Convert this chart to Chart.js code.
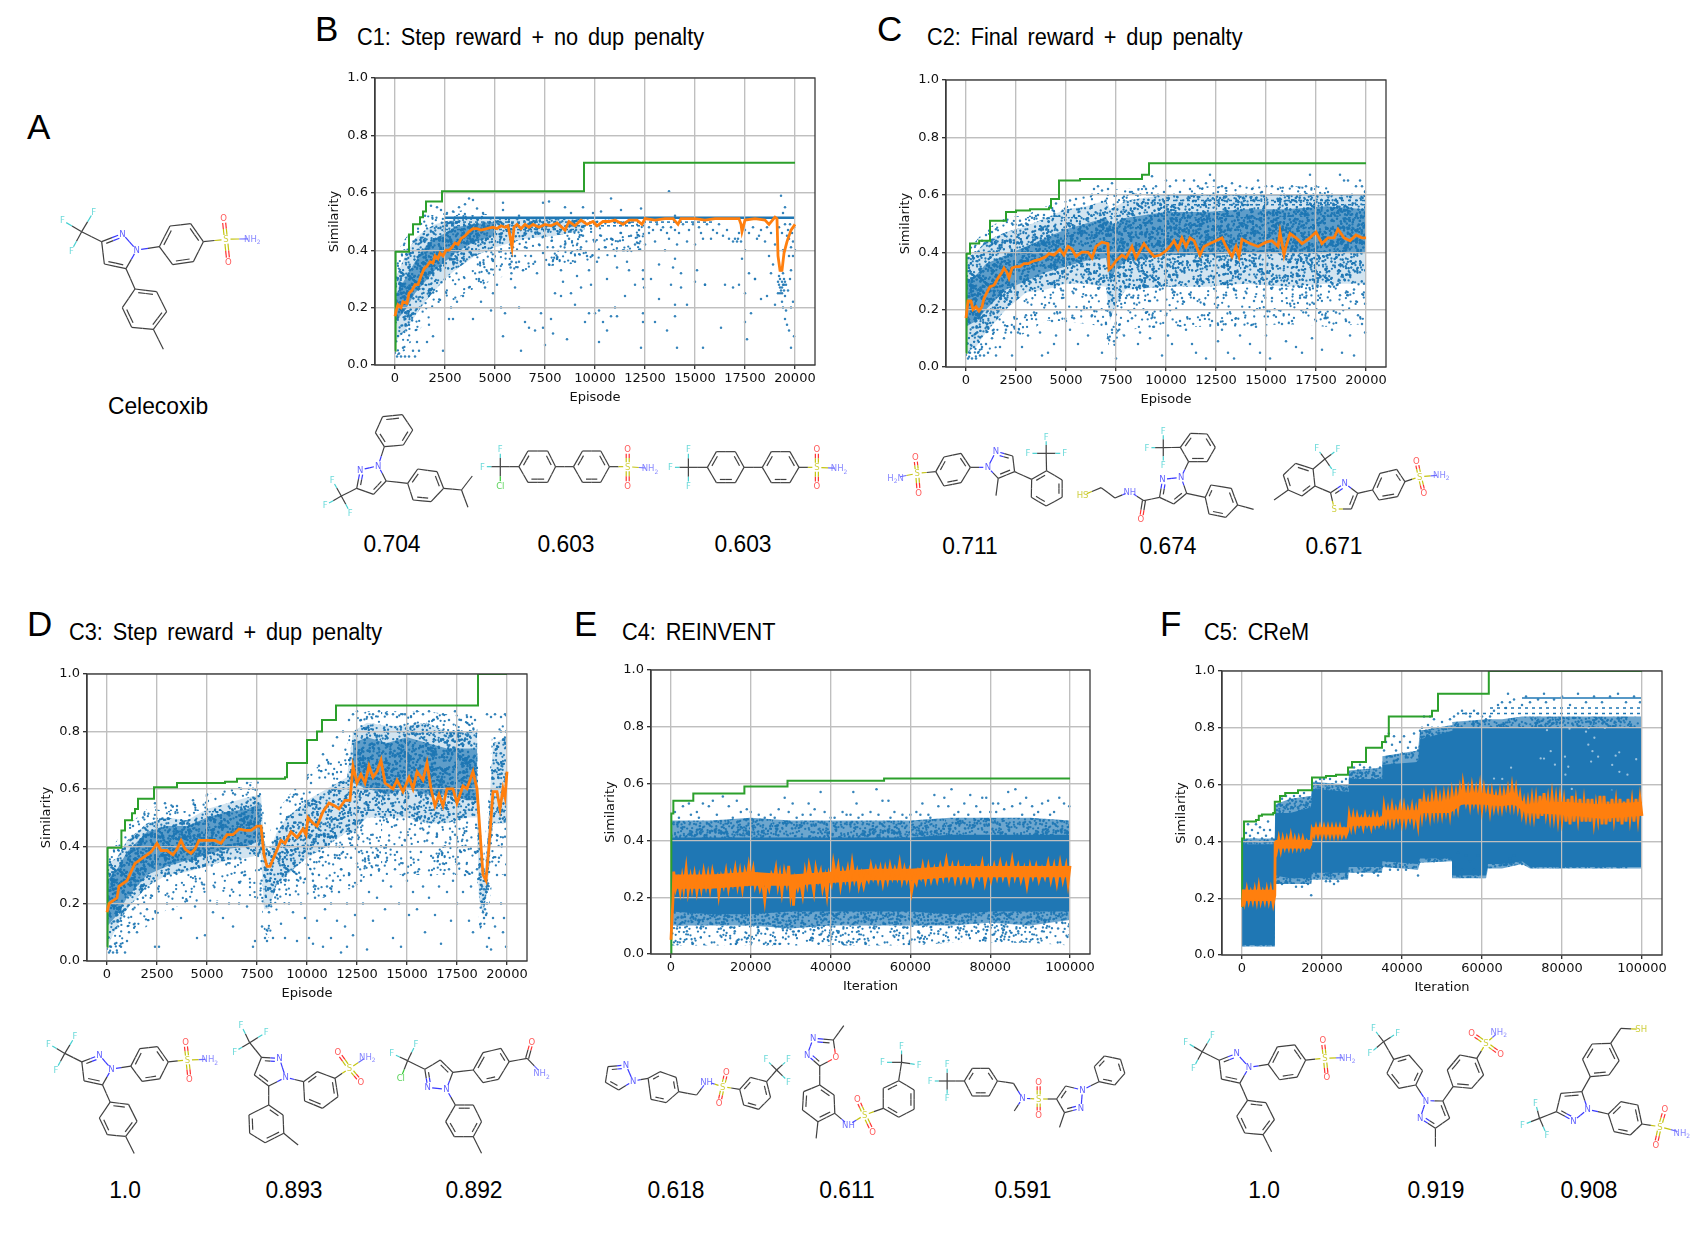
<!DOCTYPE html>
<html>
<head>
<meta charset="utf-8">
<title>Celecoxib rediscovery</title>
<script src="https://cdn.jsdelivr.net/npm/chart.js@4"></script>
<style>
html, body { margin: 0; background: #fff; }
#page { position: relative; width: 1699px; height: 1241px; overflow: hidden; }
canvas { position: absolute; }
svg { position: absolute; left: 0; top: 0; }
.t { position: absolute; font-family: "Liberation Sans", sans-serif; color: #000; white-space: pre; line-height: 1; }
.panel { font-size: 35px; }
.title { font-size: 23px; word-spacing: 4px; transform-origin: left center; transform: scaleX(.945); }
.val { font-size: 24px; transform: translate(-50%, -50%) scaleX(.95); }
</style>
</head>
<body>
<div id="page"></div>
<script>
// tick labels
const epTicks = [0, 2500, 5000, 7500, 10000, 12500, 15000, 17500, 20000];
const itTicks = [0, 20000, 40000, 60000, 80000, 100000];
const simTicks = [0, .2, .4, .6, .8, 1];

// C1
const c1BestX = [0, 30, 700, 900, 1250, 1400, 1550, 2350, 9450, 20000];
const c1BestY = [.05, .395, .455, .49, .515, .535, .57, .605, .705, .705];
const c1Mean = [0,.17,60,.19,150,.21,300,.2,400,.22,600,.215,700,.25,850,.26,1000,.28,1150,.28,1300,.31,1450,.335,1600,.345,1750,.36,1900,.355,2000,.38,2150,.37,2250,.39,2400,.38,2550,.4,2700,.4,2850,.41,3000,.425,3150,.42,3300,.44,3500,.45,3700,.465,3900,.475,4100,.475,4300,.47,4600,.475,4900,.48,5100,.475,5300,.485,5500,.48,5650,.485,5750,.45,5850,.41,5950,.48,6100,.49,6300,.475,6500,.49,6700,.48,6900,.49,7200,.48,7500,.49,7800,.485,8100,.495,8500,.47,8700,.5,9000,.485,9300,.505,9600,.49,9900,.5,10100,.485,10400,.5,10700,.5,11000,.505,11400,.49,11700,.505,12100,.505,12350,.49,12500,.51,13000,.505,13500,.51,13900,.51,14150,.49,14300,.51,15000,.51,15500,.505,16000,.51,16500,.51,17200,.51,17300,.49,17350,.465,17500,.505,18000,.51,18500,.505,18700,.49,19000,.515,19100,.51,19150,.38,19250,.33,19350,.33,19450,.39,19600,.43,19800,.47,20000,.49];
const c1SparseX = [0, 500, 1000, 1500, 2500, 3500, 5000, 7000, 10000, 12500];
const c1SparseHi = [.38, .44, .48, .52, .53, .54, .52, .51, .51, .5];
const c1SparseLo = [.03, .05, .1, .15, .2, .25, .3, .34, .36, .4];
const c1MidX = [0, 500, 1000, 1500, 2000, 2500, 3000, 4000, 5000, 6500, 8000, 9500];
const c1MidHi = [.3, .38, .44, .47, .49, .5, .51, .51, .51, .51, .51, .51];
const c1MidLo = [.08, .12, .17, .22, .26, .3, .33, .38, .41, .44, .45, .47];
const c1CoreX = [0, 500, 1000, 1500, 2000, 2500, 3000, 4000, 5000];
const c1CoreHi = [.24, .3, .36, .41, .44, .46, .48, .49, .5];
const c1CoreLo = [.15, .19, .25, .29, .33, .36, .39, .43, .45];
const c1RowY = [.513, .498, .485, .472];
const c1RowTo = [20000, 16000, 12500, 9000];
const c1Dots = [1500,.52,1800,.555,2100,.55,2300,.54,2600,.53,2900,.535,3200,.55,3500,.56,3700,.58,3900,.575,4100,.545,4400,.53,5400,.565,5400,.54,6200,.52,7400,.565,7700,.57,8500,.55,8800,.53,9400,.55,9900,.53,10300,.535,10800,.58,12300,.545,11300,.54,13700,.605,14000,.52,19300,.59,19500,.55,19400,.53,
5750,.42,5800,.39,5830,.36,5780,.34,5820,.32,5850,.38,5900,.41,5720,.35,5800,.3,6000,.38,6200,.36,6400,.33,6500,.41,6700,.44,6800,.38,7000,.36,7100,.32,7200,.42,7400,.39,7500,.45,7700,.35,7900,.41,8100,.37,8300,.33,8400,.29,8500,.42,8700,.44,8800,.39,9000,.36,9100,.31,9300,.41,9400,.45,9600,.38,9700,.33,9800,.28,10000,.43,10100,.36,10300,.45,10500,.41,10600,.3,10800,.44,11000,.38,11100,.34,11300,.46,11400,.4,11600,.36,11700,.33,11800,.45,12000,.42,12200,.47,12400,.33,12400,.3,12450,.27,12500,.42,12700,.46,13000,.43,13200,.35,13300,.47,13500,.4,13700,.44,13900,.34,14000,.37,14100,.42,14200,.46,14300,.32,14600,.43,15000,.42,15100,.33,15300,.46,15500,.28,15800,.44,16100,.46,16400,.45,16700,.44,17000,.44,17150,.44,17300,.43,17350,.37,17500,.4,17700,.32,18000,.3,18200,.45,18500,.43,18700,.38,18900,.35,19000,.42,19400,.4,19600,.45,19700,.38,19800,.33,19900,.43,20000,.4,
12700,.48,12900,.47,13100,.49,13400,.48,13600,.46,13800,.48,14000,.47,14400,.49,14700,.47,14900,.49,15200,.48,15400,.44,15600,.49,15900,.47,16200,.49,16600,.47,16900,.43,17100,.43,17200,.46,17500,.47,17700,.46,17900,.48,18100,.44,18300,.47,18600,.48,18800,.46,19200,.48,19350,.46,19500,.49,19650,.47,19750,.49,19850,.46,19950,.48,19900,.38,19700,.44,19800,.41,
19150,.29,19200,.28,19250,.3,19300,.26,19350,.29,19400,.28,19450,.26,19500,.29,19150,.25,19250,.25,19350,.25,19450,.3,19550,.28,19200,.31,19300,.33,19400,.32,19250,.27,19350,.27,19450,.28,19500,.24,19400,.2,19550,.19,19500,.16,19600,.14,19700,.12,19800,.2,19900,.22,19950,.1,19800,.06,19350,.22,19650,.26,19750,.3,
4200,.3,4500,.27,4700,.32,4900,.25,5100,.28,5300,.2,5500,.18,5400,.1,4800,.19,4300,.22,3900,.16,3700,.27,3400,.24,3100,.22,2800,.2,2700,.16,2900,.16,2400,.05,1900,.1,1700,.14,1600,.08,1200,.05,1000,.03,1100,.08,900,.05,700,.03,500,.03,400,.06,300,.03,200,.04,100,.03,
6000,.27,6200,.2,6300,.05,6500,.15,6700,.13,7000,.12,7300,.18,7400,.13,7500,.07,7800,.16,7900,.11,8000,.25,8300,.24,8600,.09,8800,.25,9000,.21,9300,.27,9500,.15,9700,.18,10000,.18,10200,.19,10200,.08,10400,.15,10600,.12,10800,.17,11000,.2,11100,.17,11500,.24,12000,.28,12300,.06,12400,.18,12400,.15,12800,.3,13000,.15,13200,.23,13600,.12,13800,.28,14000,.21,14000,.17,14100,.06,14300,.27,14600,.21,15000,.29,15400,.06,15500,.28,16300,.13,16500,.28,16900,.27,17200,.28,17500,.25,17500,.15,17600,.09,17800,.18,18000,.3,18300,.23,18600,.24,18800,.32,19000,.21];

// C2
const c2BestX = [0, 30, 200, 660, 1200, 2000, 2500, 3200, 4150, 4250, 4650, 5700, 8800, 9150, 20000];
const c2BestY = [.05, .395, .43, .44, .51, .54, .545, .55, .555, .585, .65, .655, .67, .71, .71];
const c2Mean = [0,.17,100,.23,250,.23,350,.2,500,.21,650,.195,800,.21,900,.24,1050,.26,1200,.28,1400,.285,1600,.31,1800,.33,1900,.345,2050,.33,2150,.31,2300,.345,2500,.35,2700,.35,2900,.36,3100,.36,3400,.37,3700,.375,4000,.385,4150,.395,4400,.39,4700,.41,4900,.39,5100,.42,5300,.41,5500,.385,5800,.4,6100,.4,6300,.38,6500,.42,6800,.435,7100,.43,7150,.34,7300,.35,7500,.37,7800,.39,8000,.38,8300,.42,8500,.38,8900,.43,9100,.41,9400,.385,9700,.39,10000,.405,10200,.42,10400,.44,10600,.41,10800,.45,11000,.42,11200,.45,11400,.44,11700,.39,11900,.42,12200,.43,12500,.44,12800,.45,13000,.42,13300,.385,13500,.42,13650,.385,13800,.445,14200,.43,14600,.42,15000,.435,15300,.44,15600,.42,15700,.47,15900,.39,16000,.42,16200,.465,16500,.45,16800,.43,17200,.45,17500,.47,17800,.43,18100,.45,18400,.45,18600,.48,18900,.45,19200,.44,19500,.46,19800,.45,20000,.45];
const c2BandX = [0, 500, 1000, 2000, 3000, 4000, 5000, 6000, 7000, 7200, 7500, 8000, 10000, 12000, 14000, 16000, 18000, 20000];
const c2SparseHi = [.4, .44, .48, .52, .53, .56, .58, .6, .62, .6, .62, .62, .63, .63, .63, .63, .63, .63];
const c2SparseLo = [.03, .03, .05, .08, .12, .16, .16, .15, .14, .03, .08, .13, .14, .14, .14, .15, .14, .15];
const c2MidHi = [.38, .4, .44, .47, .49, .52, .55, .56, .58, .55, .56, .58, .6, .6, .6, .6, .6, .6];
const c2MidLo = [.05, .07, .12, .2, .26, .27, .29, .29, .28, .16, .22, .27, .28, .28, .29, .28, .29, .29];
const c2CoreHi = [.3, .32, .36, .39, .42, .45, .48, .5, .52, .5, .5, .52, .54, .54, .55, .55, .56, .55];
const c2CoreLo = [.14, .16, .2, .27, .3, .33, .35, .37, .38, .3, .34, .37, .39, .39, .4, .4, .4, .4];
const c2RowY = [.6, .58, .565];
const c2RowTo = [20000, 20000, 20000];
const c2Dots = [5200,.58,5500,.585,5900,.57,6300,.6,6400,.62,6600,.63,6800,.615,7100,.62,7300,.64,7500,.6,7900,.58,8200,.61,8500,.6,8900,.63,9000,.62,9300,.665,9500,.63,9600,.6,9900,.61,10000,.65,10200,.63,10400,.6,10500,.65,10700,.61,10900,.65,11200,.62,11400,.65,11600,.63,11800,.6,12000,.64,12200,.67,12400,.65,12600,.61,12800,.63,13000,.6,13300,.64,13500,.6,13700,.63,14000,.6,14300,.62,14600,.65,14800,.61,15000,.63,15300,.63,15600,.62,15900,.6,16300,.63,16700,.6,17000,.63,17200,.67,17500,.63,17800,.6,18100,.61,18300,.6,18700,.67,18900,.65,19100,.65,19300,.6,19500,.63,19700,.65,19800,.63,19950,.61,
2300,.5,2700,.51,3000,.5,3300,.52,3600,.53,3900,.53,4200,.56,4500,.57,4800,.52,5100,.54,1500,.48,1300,.47,1000,.46,800,.44,
100,.03,200,.05,300,.03,400,.07,500,.03,600,.05,700,.04,800,.07,900,.04,1000,.08,1100,.05,1300,.1,1500,.04,1700,.07,1900,.1,2000,.13,2300,.04,2400,.14,2600,.12,2800,.07,3000,.18,3100,.11,3400,.19,3700,.12,3800,.04,4100,.05,4300,.16,4400,.08,4500,.11,4700,.19,5000,.16,5200,.13,5400,.17,5600,.08,5900,.21,6100,.11,6300,.18,6600,.16,6800,.05,7000,.15,7100,.1,7200,.19,7300,.13,7400,.09,7500,.03,7900,.11,8100,.16,8300,.17,8600,.08,8700,.12,9000,.19,9200,.1,9400,.14,9800,.04,10000,.18,10100,.11,10300,.08,10700,.16,11000,.13,11300,.08,11500,.05,11800,.18,12000,.03,12300,.16,12600,.09,12800,.13,13100,.05,13400,.03,13500,.17,13700,.11,13900,.19,14200,.08,14500,.14,14700,.05,15000,.11,15200,.03,15400,.18,15800,.15,16000,.09,16300,.16,16500,.07,16800,.05,17000,.19,17300,.1,17500,.16,17800,.06,18000,.17,18300,.13,18500,.19,18800,.05,19000,.16,19200,.11,19400,.04,19600,.18,19800,.15,19950,.12,19950,.22,19900,.29,19700,.33,19400,.27,19100,.25,18700,.25,18400,.28,18000,.3,17700,.24,17400,.22,17000,.26,16700,.24,16200,.22,15700,.27,15300,.24,14900,.27,14400,.23,13900,.24,13400,.27,13000,.25,12500,.24,11900,.22,11400,.24,10800,.24,10300,.27,9700,.27,9200,.23,8600,.24,8000,.24,7700,.24,7100,.22,6500,.25,6000,.25,5500,.27,4800,.24,4400,.22];

// C3
const c3BestX = [0, 30, 720, 900, 1250, 1400, 1550, 2350, 3500, 5900, 6500, 8900, 9000, 10000, 10500, 10750, 11450, 18550, 20000];
const c3BestY = [.05, .395, .455, .49, .515, .53, .565, .605, .62, .625, .635, .64, .69, .77, .8, .84, .89, 1, 1];
const c3Mean = [0,.17,100,.2,300,.21,500,.22,600,.26,800,.27,1000,.28,1200,.31,1400,.34,1600,.35,1800,.36,2000,.37,2200,.38,2500,.41,2700,.385,3000,.385,3300,.37,3500,.39,3700,.42,3900,.39,4200,.375,4400,.39,4600,.42,5000,.42,5400,.42,5700,.41,6000,.44,6300,.44,6600,.46,6900,.455,7200,.455,7500,.47,7700,.47,7850,.37,8000,.33,8150,.33,8400,.37,8700,.42,8900,.41,9200,.45,9500,.43,9800,.46,9950,.44,10050,.5,10300,.48,10500,.47,10800,.52,11100,.55,11400,.54,11600,.53,11900,.56,12150,.56,12300,.68,12500,.62,12700,.65,12900,.62,13100,.68,13300,.64,13500,.66,13700,.7,13900,.62,14300,.6,14500,.63,14800,.59,15100,.64,15300,.6,15500,.66,15800,.63,16000,.69,16200,.6,16400,.54,16600,.58,16800,.54,17000,.6,17300,.6,17500,.55,17800,.61,18000,.6,18300,.66,18500,.6,18650,.45,18800,.3,18950,.28,19100,.4,19300,.59,19500,.59,19650,.53,19800,.6,19900,.57,20000,.66];
const c3BandX = [0, 500, 1000, 2000, 3000, 4000, 5000, 6000, 7000, 7700, 7850, 8100, 8500, 9000, 10000, 11000, 12000, 12300, 13000, 14000, 15000, 16000, 17000, 18000, 18500, 18600, 18800, 19000, 19300, 20000];
const c3SparseHi = [.38, .42, .47, .53, .55, .54, .58, .6, .62, .63, .5, .44, .52, .57, .65, .7, .75, .85, .87, .87, .87, .87, .86, .86, .85, .55, .35, .5, .84, .86];
const c3SparseLo = [.03, .03, .06, .12, .18, .2, .2, .22, .22, .22, .1, .08, .15, .2, .22, .22, .25, .25, .3, .3, .3, .3, .3, .3, .3, .12, .1, .12, .3, .3];
const c3MidHi = [.34, .36, .42, .48, .5, .49, .53, .55, .57, .58, .42, .38, .45, .5, .56, .6, .64, .8, .83, .82, .82, .83, .8, .8, .8, .45, .28, .4, .76, .78];
const c3MidLo = [.05, .12, .18, .26, .3, .31, .33, .35, .36, .37, .18, .18, .27, .3, .36, .4, .45, .45, .5, .5, .5, .48, .48, .5, .5, .22, .16, .24, .48, .48];
const c3CoreX = [0, 500, 1000, 2000, 3000, 4000, 5000, 6000, 7000, 7700];
const c3CoreHi = [.28, .32, .38, .45, .47, .47, .5, .52, .53, .55];
const c3CoreLo = [.12, .16, .22, .3, .33, .35, .37, .39, .4, .42];
const c3Core2X = [12300, 13000, 14000, 15000, 16000, 17000, 18000, 18500];
const c3Core2Hi = [.76, .78, .76, .78, .76, .74, .74, .74];
const c3Core2Lo = [.62, .6, .58, .6, .58, .58, .56, .56];
const c3Dots = [9000,.56,9500,.58,10200,.62,10600,.68,10800,.72,11000,.7,11300,.75,11500,.78,11800,.8,12000,.72,12100,.84,12300,.86,12500,.87,12700,.84,13000,.85,13300,.86,13600,.87,14000,.86,14300,.86,14500,.85,14900,.86,15200,.85,15500,.87,15800,.86,16100,.87,16300,.84,16500,.85,16800,.86,17100,.84,17400,.87,17700,.84,18000,.85,18200,.85,18400,.84,19000,.86,19200,.85,19400,.86,19700,.85,19900,.86,19950,.8,19700,.8,
7300,.6,7000,.62,6700,.6,6400,.58,5800,.58,5000,.58,4300,.56,3500,.54,2900,.55,2400,.55,1800,.5,1300,.47,
10300,.28,10400,.22,10600,.3,10800,.38,10900,.18,11000,.26,11100,.34,11200,.2,11300,.28,11400,.36,11500,.14,11600,.24,11700,.32,11800,.38,11900,.12,12000,.2,12100,.3,12200,.36,12300,.26,12400,.16,12500,.34,12600,.38,12700,.28,12800,.2,12900,.33,13000,.38,13100,.24,13200,.3,13300,.14,13400,.36,13500,.22,13600,.32,13700,.4,13800,.28,13900,.18,14000,.36,14100,.42,14200,.26,14300,.08,14400,.32,14500,.38,14600,.2,14700,.05,14800,.3,14900,.42,15000,.28,15100,.16,15200,.36,15300,.24,15400,.44,15500,.18,15600,.32,15700,.38,15800,.26,15900,.1,16000,.42,16100,.22,16200,.3,16300,.36,16400,.16,16500,.44,16600,.26,16700,.06,16800,.34,16900,.4,17000,.24,17100,.32,17200,.14,17300,.28,17400,.44,17500,.2,17600,.34,17700,.38,17800,.24,17900,.3,18000,.42,18100,.14,18200,.26,18300,.1,18400,.38,18500,.32,19000,.05,19100,.08,19200,.04,19300,.15,19400,.12,19500,.3,19600,.36,19700,.2,19800,.1,19900,.3,19950,.05,19850,.15,
18750,.26,18800,.23,18850,.2,18900,.18,18950,.16,18800,.17,18850,.25,18900,.22,18750,.2,18950,.24,18850,.15,19000,.2,18900,.28,19050,.27,19100,.31,
7750,.12,7900,.08,8000,.07,8100,.17,8200,.2,8300,.08,8500,.23,8700,.13,8900,.08,9100,.2,9300,.17,9500,.07,9700,.2,9900,.15,10100,.08,10300,.06,10500,.14,10800,.05,11200,.08,11700,.03,12000,.05,12300,.09,13000,.04,
100,.03,200,.05,300,.03,400,.06,500,.03,700,.05,900,.03,1000,.07,1100,.1,1300,.18,1500,.1,1800,.22,2000,.18,2400,.05,2600,.05,3000,.2,3300,.18,3700,.15,4000,.21,4400,.19,4500,.08,4900,.09,5300,.17,5500,.2,5800,.15,6100,.2,6300,.12,6600,.2,7000,.19,7300,.05,7400,.07,7500,.22];

// C4
const c4BestX = [0, 100, 600, 5600, 18400, 29200, 53400, 100000];
const c4BestY = [0, .495, .54, .565, .59, .61, .618, .618];
const c4Mean = [0,.05,500,.19,700,.29,1200,.23,1800,.26,2300,.22,2800,.27,3200,.23,3800,.3,4300,.22,4900,.27,5300,.23,5900,.28,6500,.22,7100,.27,7600,.23,8200,.29,8800,.24,9300,.28,9800,.23,10400,.29,11000,.25,11600,.27,12000,.21,12600,.27,13200,.24,13800,.29,14400,.23,15000,.28,15500,.25,16100,.3,16700,.24,17300,.29,17900,.23,18500,.29,19000,.26,19500,.31,20000,.26,20600,.3,21100,.24,21700,.27,22300,.23,22900,.26,23500,.19,24000,.26,24600,.23,25200,.28,25800,.26,26300,.3,26800,.24,27300,.28,27800,.22,28400,.29,29000,.25,29500,.31,30000,.21,30500,.26,30700,.17,31200,.26,31800,.23,32400,.26,33000,.21,33600,.29,34100,.25,34600,.31,35200,.27,35800,.22,36300,.3,36900,.26,37500,.29,38000,.23,38600,.27,39100,.21,39600,.28,40200,.25,40700,.32,41300,.27,41900,.31,42500,.24,43100,.29,43700,.26,44300,.3,44800,.25,45400,.32,46000,.26,46600,.29,47100,.24,47700,.28,48300,.24,48900,.28,49500,.26,50100,.31,50700,.27,51300,.3,51900,.26,52500,.3,53100,.25,53700,.3,54300,.26,54900,.31,55500,.27,56100,.3,56700,.27,57300,.32,57900,.26,58500,.3,59100,.26,59700,.29,60300,.22,60900,.27,61500,.25,62000,.29,62600,.27,63100,.31,63800,.26,64500,.31,65200,.26,66000,.3,66700,.26,67500,.31,68200,.27,69000,.33,69700,.27,70500,.31,71200,.26,72000,.31,72700,.26,73500,.3,74200,.26,75000,.3,75700,.25,76500,.3,77200,.27,78000,.32,78700,.25,79500,.3,80200,.26,81000,.31,81700,.27,82500,.32,83200,.27,84000,.31,84700,.26,85500,.33,86200,.27,87000,.31,87700,.26,88500,.3,89200,.24,90000,.31,90700,.27,91500,.31,92200,.26,93000,.3,93700,.27,94500,.32,95200,.26,96000,.31,96700,.25,97500,.32,98200,.26,99000,.31,99500,.25,100000,.31];
const c4RibbonX = [600, 10000, 20000, 30000, 40000, 50000, 60000, 70000, 80000, 90000, 100000];
const c4RibbonHi = [.28, .28, .29, .28, .29, .3, .3, .31, .31, .31, .31];
const c4RibbonLo = [.23, .23, .24, .24, .25, .26, .26, .27, .27, .27, .27];
const c4BandX = [0, 10000, 20000, 30000, 40000, 50000, 60000, 70000, 80000, 90000, 100000];
const c4CoreHi = [.41, .41, .41, .41, .41, .41, .41, .42, .42, .42, .42];
const c4CoreLo = [.15, .14, .14, .15, .15, .15, .15, .14, .15, .15, .15];
const c4MidHi = [.47, .47, .48, .47, .47, .47, .47, .48, .48, .48, .47];
const c4MidLo = [.1, .1, .1, .09, .1, .1, .1, .1, .11, .1, .12];
const c4LowHi = [.1, .1, .1, .09, .1, .1, .1, .1, .11, .1, .12];
const c4LowLo = [.03, .03, .03, .03, .03, .03, .03, .04, .04, .04, .03];
const c4RowY = [0];
const c4RowTo = [100000];
const c4Dots = [1000,.5,3000,.52,4500,.53,6500,.5,8000,.53,9500,.52,10500,.54,13000,.555,14500,.52,16500,.54,17500,.5,19000,.51,20000,.5,22000,.49,25000,.49,27000,.51,28500,.55,29500,.5,30500,.53,33000,.49,34500,.53,36000,.51,37500,.57,38500,.5,40000,.48,43000,.5,45000,.49,45700,.57,46500,.53,48000,.49,50000,.5,51500,.58,53000,.54,54500,.54,56000,.5,58000,.49,60000,.49,61500,.5,63000,.53,64500,.49,66000,.56,67000,.52,68500,.55,69500,.52,70300,.58,72000,.5,73500,.53,75000,.56,76500,.52,78000,.55,79000,.55,80000,.5,80700,.53,82000,.53,83500,.51,84500,.57,85500,.52,86300,.58,87500,.53,89000,.55,90500,.52,92000,.5,93000,.53,94500,.54,96000,.5,97300,.55,98500,.53,99800,.52,
2000,.48,5000,.49,7000,.48,11500,.49,15500,.48,23500,.48,26000,.48,31500,.48,35000,.49,41000,.48,44000,.49,47000,.48,52000,.49,55000,.48,59000,.48,62500,.49,65000,.48,71000,.49,74500,.49,77500,.5,81500,.5,88000,.49,91000,.49,95000,.49,
1500,.09,4000,.08,7500,.09,12500,.09,16000,.08,22000,.08,24000,.09,28000,.09,32000,.08,37000,.09,42000,.08,47000,.08,51000,.09,56000,.08,62000,.08,67000,.08,72000,.09,77000,.08,83000,.09,87000,.08,93000,.08,97000,.09];

// C5
const c5BestX = [0, 30, 500, 3500, 4200, 5000, 7800, 8200, 9500, 10800, 14000, 17500, 21000, 23500, 26500, 27500, 31000, 35000, 35800, 36700, 47500, 49000, 61700, 100000];
const c5BestY = [.17, .41, .47, .475, .49, .495, .5, .54, .56, .57, .58, .625, .63, .635, .66, .68, .73, .75, .77, .84, .86, .92, 1, 1];
const c5Mean = [100,.17,300,.23,700,.19,1200,.23,1700,.19,2200,.22,2700,.19,3200,.23,3700,.19,4200,.24,4700,.19,5200,.22,5700,.19,6200,.23,6700,.19,7200,.23,7800,.18,8200,.21,8300,.4,8700,.37,9200,.41,9700,.37,10200,.41,10700,.38,11200,.41,11700,.38,12200,.42,12700,.38,13200,.41,13700,.38,14200,.41,14700,.38,15200,.41,15700,.38,16200,.4,16800,.38,17200,.39,17500,.44,18000,.42,18500,.45,19000,.42,19500,.45,20000,.42,20500,.45,21000,.42,21500,.45,22000,.42,22500,.45,23000,.42,23500,.45,24000,.42,24500,.45,25000,.42,25500,.44,26000,.42,26500,.44,26800,.49,27300,.45,27800,.49,28300,.45,28800,.49,29300,.46,29800,.48,30300,.45,30800,.49,31300,.46,31800,.48,32300,.45,32800,.49,33300,.46,33800,.49,34300,.46,34800,.48,35200,.47,35500,.52,36000,.47,36500,.51,37000,.47,37500,.52,38000,.47,38500,.51,39000,.48,39500,.52,40000,.47,40500,.52,41000,.47,41500,.51,42000,.48,42500,.52,43000,.47,43500,.51,44000,.46,44500,.55,45000,.49,45500,.55,46000,.5,46500,.54,47000,.49,47500,.55,48000,.5,48500,.56,49000,.5,49500,.55,50000,.5,50500,.56,51000,.51,51500,.56,52000,.5,52500,.57,53000,.52,53500,.57,54000,.52,54500,.58,55000,.53,55300,.6,56000,.54,56500,.58,57000,.53,57500,.59,58000,.54,58500,.58,59000,.53,59500,.59,60000,.52,60500,.58,61000,.53,61500,.57,62000,.51,62500,.57,63000,.52,63500,.56,64000,.52,64500,.57,65000,.52,65500,.57,66000,.53,66500,.58,67000,.53,67500,.59,68000,.53,68500,.58,69000,.52,69500,.56,70000,.5,70500,.54,71000,.49,71500,.54,72000,.49,72500,.55,73000,.49,73500,.55,74000,.48,74500,.56,75000,.49,75500,.57,76000,.5,76500,.55,77000,.49,77500,.56,78000,.49,78500,.55,79000,.48,79500,.55,80000,.48,80500,.54,81000,.47,81500,.55,82000,.46,82500,.56,83000,.47,83500,.54,84000,.48,84500,.55,85000,.47,85500,.54,86000,.47,86500,.55,87000,.47,87500,.55,88000,.47,88500,.53,89000,.48,89500,.56,90000,.46,90500,.56,91000,.46,91500,.54,92000,.47,92500,.55,93000,.48,93500,.54,94000,.47,94500,.55,95000,.46,95500,.54,96000,.47,96500,.55,97000,.48,97500,.54,98000,.47,98500,.55,99000,.48,99500,.55,100000,.49];
const c5RibbonX = [100, 8200, 8300, 17200, 17500, 26500, 26800, 35000, 35500, 44000, 44500, 52000, 55000, 60000, 65000, 68000, 71000, 80000, 90000, 100000];
const c5RibbonHi = [.23, .23, .405, .405, .45, .45, .485, .485, .51, .51, .54, .54, .57, .57, .56, .57, .53, .54, .53, .54];
const c5RibbonLo = [.19, .19, .375, .375, .425, .425, .455, .455, .48, .48, .5, .5, .53, .53, .525, .53, .5, .495, .48, .49];
const c5BandX = [0, 8200, 8300, 12000, 17300, 17500, 26500, 26700, 35000, 35100, 44000, 44500, 52500, 52600, 61000, 61500, 65000, 70000, 72000, 80000, 100000];
const c5CoreHi = [.39, .39, .5, .5, .52, .585, .575, .62, .62, .67, .68, .76, .79, .8, .8, .8, .8, .8, .8, .8, .8];
const c5CoreLo = [.035, .035, .28, .27, .27, .29, .29, .31, .31, .33, .32, .34, .34, .28, .28, .32, .32, .33, .31, .31, .31];
const c5OuterHi = [.41, .41, .53, .55, .56, .61, .6, .65, .66, .7, .72, .79, .81, .82, .83, .83, .83, .84, .84, .84, .84];
const c5OuterLo = [.03, .03, .25, .25, .25, .265, .265, .29, .29, .31, .3, .325, .33, .27, .27, .305, .305, .32, .305, .305, .305];
const c5HoleX = [62000, 80000, 100000];
const c5HoleHi = [.8, .8, .8];
const c5HoleLo = [.6, .58, .58];
const c5RowY = [.905, .87, .85];
const c5RowTo = [100000, 100000, 100000];
const c5RowFrom = [70000, 62000, 55000];
const c5Dots = [1000,.43,1500,.46,2000,.42,2500,.44,3000,.41,3500,.46,4000,.43,4500,.45,5000,.41,5500,.44,6000,.42,6500,.47,7000,.44,7500,.41,2200,.4,6200,.4,
9500,.53,10000,.55,10500,.52,11000,.56,11500,.53,12000,.55,12500,.52,13000,.56,13500,.54,14000,.52,14500,.56,15000,.54,15500,.57,16000,.53,16500,.55,17000,.54,
18000,.6,18500,.61,19000,.59,19500,.62,20000,.6,20500,.62,21000,.6,22000,.62,22500,.6,23000,.58,23500,.61,24000,.59,25000,.61,25500,.58,26000,.62,
27500,.64,28000,.66,28500,.63,29000,.65,29500,.67,30000,.64,30500,.66,31000,.63,31500,.64,32000,.66,32500,.62,33000,.64,33500,.65,34000,.63,34500,.66,
35500,.72,36000,.75,36200,.68,36700,.78,37000,.7,37500,.74,38000,.77,38500,.72,39000,.69,39500,.75,40000,.71,40500,.77,41000,.7,41500,.73,42000,.75,42500,.71,43000,.78,43500,.73,44000,.72,44500,.79,
45000,.8,45500,.84,46000,.79,46500,.81,47000,.84,47500,.8,48000,.83,49000,.8,50000,.82,51000,.8,52000,.83,53000,.84,54000,.85,55000,.86,56000,.85,57000,.84,58000,.86,59000,.85,60000,.84,61000,.83,62000,.84,63000,.86,64000,.88,65000,.89,66000,.87,66500,.92,67000,.89,68000,.9,70000,.88,71000,.91,72000,.89,74000,.9,75500,.92,76000,.89,78000,.9,80000,.91,82000,.88,84000,.92,86000,.89,88000,.91,90000,.89,92000,.91,94000,.92,96000,.89,98000,.91,99500,.89,
9000,.26,10000,.25,11000,.26,12000,.26,13500,.24,15000,.24,16500,.25,17300,.21,18500,.28,20000,.27,21000,.26,22000,.26,23000,.25,24000,.26,25000,.27,26000,.28,27500,.3,29000,.29,30000,.28,31500,.3,33000,.29,34000,.28,35000,.31,37000,.3,38500,.31,39000,.3,41000,.3,43000,.31,44000,.28,46000,.34,48000,.33,50000,.34,52000,.34,
53000,.31,54000,.36,55000,.3,56000,.35,57000,.33,58000,.3,59000,.35,60000,.29,66000,.32,67000,.34,68000,.35,69000,.33,70000,.32];

const blue = "rgb(31,119,180)";
const simGridColor = "#bfbfbf";

function pairs(list) {
   const out = [];
   for (let i = 0; i < list.length; i += 2) out.push({ x: list[i], y: list[i + 1] });
   return out;
}
function zip(xs, ys) {
   return xs.map((x, i) => ({ x: x, y: ys[i] }));
}

// grain texture for the cloud fills, only a fill style, no chart values in it
function grain(i, k) {
   const v = Math.sin(i * k) * 43758.5453;
   return v - Math.floor(v);
}
function speckle(bg, count, dot) {
   const w = 173, h = 149;
   const c = document.createElement("canvas");
   c.width = w; c.height = h;
   const ctx = c.getContext("2d");
   ctx.fillStyle = bg;
   ctx.fillRect(0, 0, w, h);
   ctx.fillStyle = dot || "rgba(31,119,180,.95)";
   for (let i = 1; i <= count; i++) {
      ctx.beginPath();
      ctx.arc(grain(i, 12.9898) * w, grain(i, 78.233) * h, 1.15, 0, 7);
      ctx.fill();
   }
   return ctx.createPattern(c, "repeat");
}
const fillSparse = speckle("rgba(31,119,180,0)", 750);
const fillLow = speckle("rgba(31,119,180,0)", 1500);
const fillMid = speckle("rgba(31,119,180,.2)", 2600);
const fillCore = speckle("rgba(31,119,180,.65)", 3200);
const fillDense = speckle("rgba(31,119,180,.65)", 3200);
const fillHoles = speckle("rgba(255,255,255,0)", 70, "rgba(255,255,255,.55)");

function band(xs, hi, lo, color, order) {
   const o = order || 6;
   return [
      { type: "line", data: zip(xs, hi), fill: "+1", backgroundColor: color, borderWidth: 0, pointRadius: 0, order: o },
      { type: "line", data: zip(xs, lo), borderWidth: 0, pointRadius: 0, order: o }
   ];
}
function rows(ys, tos, froms, dash, width) {
   return ys.map((y, i) => ({
      type: "line", data: [{ x: froms[i], y: y }, { x: tos[i], y: y }],
      borderColor: blue, borderWidth: i === 0 ? width : 1.5, borderDash: i === 0 ? [] : dash, pointRadius: 0, order: 5
   }));
}

// grid sits over the scatter but under the two lines
const gridOver = {
   id: "gridOver",
   beforeDatasetDraw(chart, args) {
      if (chart.data.datasets[args.index].label === "best") {
         chart.scales.x.drawGrid(chart.chartArea);
         chart.scales.y.drawGrid(chart.chartArea);
      }
   },
   afterDraw(chart) {
      const a = chart.chartArea, ctx = chart.ctx;
      ctx.save();
      ctx.strokeStyle = "#3a3a3a";
      ctx.lineWidth = 1.3;
      ctx.strokeRect(a.left, a.top, a.width, a.height);
      ctx.restore();
   }
};

const page = document.getElementById("page");

function makeChart(box, xMin, xMax, xTicks, xName, layers, dots, bestX, bestY, mean) {
   const cv = document.createElement("canvas");
   const padL = 52, padT = 12, padR = 28, padB = 50;
   cv.width = box.w + padL + padR;
   cv.height = box.h + padT + padB;
   cv.style.left = (box.l - padL) + "px";
   cv.style.top = (box.t - padT) + "px";
   page.appendChild(cv);
   const tickFont = { family: "DejaVu Sans", size: 13 };
   return new Chart(cv, {
      type: "line",
      data: {
         datasets: [
            { label: "best", data: zip(bestX, bestY), stepped: "before", borderColor: "#2ca02c", borderWidth: 2, pointRadius: 0, order: 3 },
            { label: "mean", data: pairs(mean), borderColor: "#ff7f0e", borderWidth: 2.8, pointRadius: 0, tension: 0, order: 2 },
            { label: "dots", data: pairs(dots), showLine: false, pointRadius: 1.25, pointBorderWidth: 0, pointBackgroundColor: "rgba(31,119,180,.9)", order: 4 },
            ...layers
         ]
      },
      options: {
         responsive: false,
         animation: false,
         devicePixelRatio: 1,
         layout: { padding: { top: padT, right: padR, left: 0, bottom: padB - 44 } },
         plugins: { legend: { display: false }, tooltip: { enabled: false } },
         scales: {
            x: {
               type: "linear", min: xMin, max: xMax,
               afterBuildTicks: (s) => { s.ticks = xTicks.map((v) => ({ value: v })); },
               afterFit: (s) => { s.height = 44; },
               ticks: { font: tickFont, color: "#111", maxRotation: 0, autoSkip: false, padding: 2, callback: (v) => String(v) },
               grid: { color: simGridColor, lineWidth: 1.2, tickLength: 4, tickColor: "#333" },
               border: { color: "#3a3a3a", width: 1.3 },
               title: { display: true, text: xName, color: "#111", font: tickFont }
            },
            y: {
               min: 0, max: 1,
               afterBuildTicks: (s) => { s.ticks = simTicks.map((v) => ({ value: v })); },
               afterFit: (s) => { s.width = padL; },
               ticks: { font: tickFont, color: "#111", padding: 3, callback: (v) => v.toFixed(1) },
               grid: { color: simGridColor, lineWidth: 1.2, tickLength: 4, tickColor: "#333" },
               border: { color: "#3a3a3a", width: 1.3 },
               title: { display: true, text: "Similarity", color: "#111", font: tickFont }
            }
         }
      },
      plugins: [gridOver]
   });
}

makeChart({ l: 375, t: 78, w: 440, h: 287 }, -1000, 21000, epTicks, "Episode",
   [...rows(c1RowY, c1RowTo, [2500, 2500, 2500, 2500], [3, 3], 2.6), ...band(c1CoreX, c1CoreHi, c1CoreLo, fillCore), ...band(c1MidX, c1MidHi, c1MidLo, fillMid), ...band(c1SparseX, c1SparseHi, c1SparseLo, fillSparse)],
   c1Dots, c1BestX, c1BestY, c1Mean);
makeChart({ l: 946, t: 80, w: 440, h: 287 }, -1000, 21000, epTicks, "Episode",
   [...rows(c2RowY, c2RowTo, [9000, 10000, 10000], [3, 4], 1), ...band(c2BandX, c2CoreHi, c2CoreLo, fillCore), ...band(c2BandX, c2MidHi, c2MidLo, fillMid), ...band(c2BandX, c2SparseHi, c2SparseLo, fillSparse)],
   c2Dots, c2BestX, c2BestY, c2Mean);
makeChart({ l: 87, t: 674, w: 440, h: 287 }, -1000, 21000, epTicks, "Episode",
   [...band(c3CoreX, c3CoreHi, c3CoreLo, fillCore), ...band(c3Core2X, c3Core2Hi, c3Core2Lo, fillCore), ...band(c3BandX, c3MidHi, c3MidLo, fillMid), ...band(c3BandX, c3SparseHi, c3SparseLo, fillSparse)],
   c3Dots, c3BestX, c3BestY, c3Mean);
makeChart({ l: 651, t: 670, w: 439, h: 284 }, -5000, 105000, itTicks, "Iteration",
   [...band(c4RibbonX, c4RibbonHi, c4RibbonLo, "#ff7f0e", 2.5), ...rows(c4RowY, c4RowTo, [0], [], 2), ...band(c4BandX, c4CoreHi, c4CoreLo, blue), ...band(c4BandX, c4MidHi, c4MidLo, fillDense), ...band(c4BandX, c4LowHi, c4LowLo, fillLow)],
   c4Dots, c4BestX, c4BestY, c4Mean);
makeChart({ l: 1222, t: 671, w: 440, h: 284 }, -5000, 105000, itTicks, "Iteration",
   [...band(c5RibbonX, c5RibbonHi, c5RibbonLo, "#ff7f0e", 2.5), ...rows(c5RowY, c5RowTo, c5RowFrom, [3, 4], 1.5), ...band(c5HoleX, c5HoleHi, c5HoleLo, fillHoles, 5.5), ...band(c5BandX, c5CoreHi, c5CoreLo, blue), ...band(c5BandX, c5OuterHi, c5OuterLo, fillCore)],
   c5Dots, c5BestX, c5BestY, c5Mean);

// captions
function label(cls, text, x, y) {
   const d = document.createElement("div");
   d.className = "t " + cls;
   d.textContent = text;
   d.style.left = x + "px";
   d.style.top = y + "px";
   page.appendChild(d);
}
[["A", 27, 109], ["B", 315, 11], ["C", 877, 11], ["D", 27, 606], ["E", 574, 606], ["F", 1160, 606]].forEach((p) => label("panel", p[0], p[1], p[2]));
[["C1: Step reward + no dup penalty", 357, 26], ["C2: Final reward + dup penalty", 927, 26], ["C3: Step reward + dup penalty", 69, 621], ["C4: REINVENT", 622, 621], ["C5: CReM", 1204, 621]].forEach((p) => label("title", p[0], p[1], p[2]));
[["Celecoxib", 158, 406], ["0.704", 392, 544], ["0.603", 566, 544], ["0.603", 743, 544], ["0.711", 970, 546], ["0.674", 1168, 546], ["0.671", 1334, 546], ["1.0", 125, 1190], ["0.893", 294, 1190], ["0.892", 474, 1190], ["0.618", 676, 1190], ["0.611", 847, 1190], ["0.591", 1023, 1190], ["1.0", 1264, 1190], ["0.919", 1436, 1190], ["0.908", 1589, 1190]].forEach((p) => label("val", p[0], p[1], p[2]));

// structure drawings, coordinates in the pixels of a crop of each row
const atomColor = { F: "#45d0d0", N: "#3838ff", O: "#ff3030", S: "#c4c410", Cl: "#30c830", NH2: "#6a6aff", H2N: "#6a6aff", NH: "#5050ff", SH: "#c4c410", HS: "#c4c410" };
let svgOut = "";
function pen(x0, y0, fx, fy) {
   const X = (p) => x0 + p[0] / fx, Y = (p) => y0 + p[1] / fy;
   const seen = {};
   function atom(p) {
      if (!p[2]) return;
      const key = p[0] + "," + p[1];
      if (seen[key]) return;
      seen[key] = 1;
      const name = p[2].replace("2", "");
      const sub = p[2].includes("2") ? '<tspan font-size="6" dy="2.2">2</tspan>' : "";
      const lead = p[2] === "H2N" ? 'H<tspan font-size="6" dy="2.2">2</tspan><tspan dy="-2.2">N</tspan>' : name + sub;
      svgOut += `<text x="${X(p)}" y="${Y(p) + 3}" fill="${atomColor[p[2]]}" font-size="8.5" text-anchor="middle" font-family="DejaVu Sans" opacity=".8">${lead}</text>`;
   }
   function seg(x1, y1, x2, y2, col) {
      svgOut += `<line x1="${x1}" y1="${y1}" x2="${x2}" y2="${y2}" stroke="${col}" stroke-width="1.2"/>`;
   }
   function stroke(a, b, ox, oy, trim) {
      let x1 = X(a), y1 = Y(a), x2 = X(b), y2 = Y(b);
      const len = Math.hypot(x2 - x1, y2 - y1), ux = (x2 - x1) / len, uy = (y2 - y1) / len;
      const ta = a[2] ? Math.max(4.5, trim) : trim, tb = b[2] ? Math.max(4.5, trim) : trim;
      x1 += ux * ta + ox; y1 += uy * ta + oy; x2 += -ux * tb + ox; y2 += -uy * tb + oy;
      const mx = X(a) / 2 + X(b) / 2 + ox, my = Y(a) / 2 + Y(b) / 2 + oy;
      seg(x1, y1, mx, my, a[2] ? atomColor[a[2]] : "#404040");
      seg(mx, my, x2, y2, b[2] ? atomColor[b[2]] : "#404040");
   }
   const m = {
      b(a, b) { stroke(a, b, 0, 0, 0); atom(a); atom(b); },
      d(a, b) {
         const len = Math.hypot(X(b) - X(a), Y(b) - Y(a));
         const nx = -(Y(b) - Y(a)) / len * 1.5, ny = (X(b) - X(a)) / len * 1.5;
         stroke(a, b, nx, ny, 0); stroke(a, b, -nx, -ny, 0); atom(a); atom(b);
      },
      ring(pts, dbl) {
         const cx = pts.reduce((s, p) => s + X(p), 0) / pts.length, cy = pts.reduce((s, p) => s + Y(p), 0) / pts.length;
         pts.forEach((a, i) => {
            const b = pts[(i + 1) % pts.length];
            stroke(a, b, 0, 0, 0);
            if (dbl.includes(i)) {
               const mx = (X(a) + X(b)) / 2, my = (Y(a) + Y(b)) / 2, len = Math.hypot(cx - mx, cy - my);
               stroke(a, b, (cx - mx) / len * 3.2, (cy - my) / len * 3.2, 3.5);
            }
            atom(a);
         });
      },
      star(c, ...leafs) { leafs.forEach((l) => m.b(c, l)); },
      so2(att, s, o1, o2, n) { m.b(att, s); m.d(s, o1); m.d(s, o2); m.b(s, n); }
   };
   return m;
}

function celecoxib(m) {
   m.star([245, 425], [305, 455], [187, 391, "F"], [281, 365, "F"], [214, 482, "F"]);
   m.ring([[305, 455], [367, 431, "N"], [410, 480, "N"], [378, 536], [313, 522]], [0, 3]);
   m.b([410, 480, "N"], [478, 470]);
   m.ring([[478, 470], [510, 408], [572, 401], [610, 455], [580, 515], [518, 524]], [0, 2, 4]);
   m.so2([610, 455], [678, 448, "S"], [671, 385, "O"], [685, 516, "O"], [757, 446, "NH2"]);
   m.b([378, 536], [405, 597]);
   m.ring([[405, 597], [470, 605], [500, 665], [460, 718], [395, 712], [367, 653]], [0, 2, 4]);
   m.b([460, 718], [490, 778]);
}
celecoxib(pen(0, 90, 3, 3));
celecoxib(pen(-4.6, 933, 3.53, 3.53));
celecoxib(pen(1132.8, 931.3, 3.53, 3.53));

function biaryl(m, c, f1, f2, f3, r1, r2, s, o1, o2, n) {
   m.star(c, r1[0], f1, f2, f3);
   m.ring(r1, [0, 2, 4]);
   m.b(r1[3], r2[0]);
   m.ring(r2, [0, 2, 4]);
   m.so2(r2[3], s, o1, o2, n);
}

// row B
let m = pen(300, 400, 2.786, 3);
m.ring([[230, 50], [285, 44], [314, 90], [288, 135], [235, 140], [210, 98]], [0, 2, 4]);
m.b([235, 140], [218, 197, "N"]);
m.ring([[158, 265], [168, 210, "N"], [218, 197, "N"], [240, 243], [205, 283]], [0, 3]);
m.star([115, 288], [158, 265], [90, 240, "F"], [70, 316, "F"], [140, 338, "F"]);
m.b([240, 243], [300, 250]);
m.ring([[300, 250], [328, 207], [382, 215], [400, 265], [365, 305], [315, 300]], [0, 2, 4]);
m.b([400, 265], [450, 270]);
m.b([450, 270], [480, 228]);
m.b([450, 270], [468, 322]);
biaryl(m, [558, 200], [558, 148, "F"], [508, 200, "F"], [558, 257, "Cl"],
   [[610, 200], [635, 153], [690, 153], [712, 200], [690, 247], [635, 247]],
   [[762, 200], [787, 153], [838, 153], [862, 200], [838, 247], [787, 247]],
   [913, 200, "S"], [913, 148, "O"], [913, 257, "O"], [975, 205, "NH2"]);
biaryl(m, [1082, 202], [1082, 148, "F"], [1032, 202, "F"], [1082, 258, "F"],
   [[1135, 202], [1160, 155], [1213, 155], [1237, 202], [1213, 248], [1160, 248]],
   [[1288, 202], [1313, 155], [1365, 155], [1390, 202], [1365, 248], [1313, 248]],
   [1440, 202, "S"], [1440, 148, "O"], [1440, 258, "O"], [1502, 205, "NH2"]);

// row C
m = pen(880, 410, 2.69, 3);
m.so2([150, 185], [100, 190, "S"], [95, 142, "O"], [104, 248, "O"], [42, 203, "H2N"]);
m.ring([[150, 185], [172, 141], [218, 130], [243, 172], [218, 218], [172, 228]], [0, 2, 4]);
m.b([243, 172], [290, 172, "N"]);
m.ring([[290, 172, "N"], [312, 124, "N"], [357, 138], [362, 185], [318, 205]], [1, 3]);
m.b([318, 205], [312, 257]);
m.b([362, 185], [408, 208]);
m.ring([[408, 208], [448, 182], [490, 210], [490, 262], [447, 288], [407, 262]], [0, 2, 4]);
m.star([447, 130], [448, 182], [447, 80, "F"], [398, 130, "F"], [497, 130, "F"]);
m.b([545, 256, "HS"], [595, 233]);
m.b([595, 233], [632, 264]);
m.b([632, 264], [672, 245, "NH"]);
m.b([672, 245, "NH"], [710, 272]);
m.d([710, 272], [702, 328, "O"]);
m.b([710, 272], [752, 262]);
m.ring([[752, 262], [760, 208, "N"], [810, 202, "N"], [825, 250], [790, 282]], [0, 3]);
m.b([810, 202, "N"], [830, 155]);
m.ring([[830, 155], [808, 112], [835, 70], [880, 72], [902, 112], [880, 155]], [1, 3, 5]);
m.star([762, 113], [808, 112], [762, 62, "F"], [718, 113, "F"], [762, 165, "F"]);
m.b([825, 250], [875, 262]);
m.ring([[875, 262], [890, 225], [945, 235], [962, 285], [930, 322], [885, 312]], [0, 2, 4]);
m.b([962, 285], [1005, 298]);
m.b([1060, 270], [1098, 240]);
m.ring([[1098, 240], [1085, 195], [1118, 160], [1165, 177], [1170, 228], [1135, 258]], [0, 2, 4]);
m.star([1197, 147], [1165, 177], [1175, 115, "F"], [1232, 118, "F"], [1222, 188, "F"]);
m.b([1170, 228], [1212, 248]);
m.ring([[1212, 248], [1250, 220, "N"], [1285, 250], [1268, 297], [1222, 297, "S"]], [0, 2]);
m.b([1285, 250], [1325, 240]);
m.ring([[1325, 240], [1345, 190], [1390, 178], [1412, 215], [1392, 260], [1342, 270]], [0, 2, 4]);
m.so2([1412, 215], [1452, 200, "S"], [1443, 153, "O"], [1463, 250, "O"], [1510, 195, "NH2"]);

// row D
m = pen(30, 1020, 2.786, 3);
m.star([612, 68], [645, 112], [588, 15, "F"], [658, 37, "F"], [570, 95, "F"]);
m.ring([[645, 112], [695, 115, "N"], [712, 172, "N"], [665, 198], [625, 165]], [0, 3]);
m.b([712, 172, "N"], [762, 185]);
m.ring([[762, 185], [800, 155], [850, 175], [858, 230], [815, 265], [765, 243]], [0, 2, 4]);
m.so2([850, 175], [890, 145, "S"], [858, 97, "O"], [922, 185, "O"], [940, 110, "NH2"]);
m.b([665, 198], [665, 255]);
m.ring([[665, 255], [705, 285], [707, 340], [655, 368], [612, 340], [610, 285]], [0, 2, 4]);
m.b([707, 340], [747, 375]);
m.star([1052, 122], [1100, 148], [1008, 100, "F"], [1075, 72, "F"], [1033, 175, "Cl"]);
m.ring([[1100, 148], [1108, 202, "N"], [1160, 208, "N"], [1178, 157], [1143, 120]], [0, 3]);
m.b([1178, 157], [1235, 150]);
m.ring([[1235, 150], [1262, 98], [1312, 85], [1335, 125], [1305, 178], [1262, 188]], [0, 2, 4]);
m.b([1335, 125], [1385, 115]);
m.d([1385, 115], [1398, 65, "O"]);
m.b([1385, 115], [1425, 160, "NH2"]);
m.b([1160, 208, "N"], [1185, 255]);
m.ring([[1185, 255], [1235, 255], [1258, 305], [1235, 350], [1182, 350], [1158, 305]], [0, 2, 4]);
m.b([1235, 350], [1258, 400]);

// row E
m = pen(590, 1020, 2.786, 3);
m.ring([[50, 140], [100, 135, "N"], [120, 183, "N"], [80, 210], [43, 187]], [0, 3]);
m.b([120, 183, "N"], [162, 175]);
m.ring([[162, 175], [195, 155], [240, 172], [247, 215], [212, 248], [170, 238]], [0, 2, 4]);
m.b([247, 215], [297, 225]);
m.b([297, 225], [325, 185, "NH"]);
m.b([325, 185, "NH"], [370, 200, "S"]);
m.d([370, 200, "S"], [380, 155, "O"]);
m.d([370, 200, "S"], [360, 250, "O"]);
m.b([370, 200, "S"], [417, 208]);
m.ring([[417, 208], [447, 172], [492, 185], [503, 232], [470, 268], [428, 255]], [0, 2, 4]);
m.star([520, 150], [492, 185], [490, 118, "F"], [553, 118, "F"], [553, 185, "F"]);
m.b([707, 17], [678, 60]);
m.ring([[678, 60], [622, 55, "N"], [605, 105, "N"], [640, 138], [685, 112, "O"]], [0, 2]);
m.b([640, 138], [640, 195]);
m.ring([[640, 195], [680, 225], [682, 280], [635, 305], [592, 270], [595, 215]], [0, 2, 4]);
m.b([635, 305], [630, 355]);
m.b([682, 280], [720, 315, "NH"]);
m.b([720, 315, "NH"], [765, 285, "S"]);
m.d([765, 285, "S"], [745, 238, "O"]);
m.d([765, 285, "S"], [787, 335, "O"]);
m.b([765, 285, "S"], [817, 265]);
m.ring([[817, 265], [860, 292], [903, 268], [903, 210], [860, 182], [817, 205]], [0, 2, 4]);
m.star([868, 127], [860, 182], [868, 78, "F"], [815, 127, "F"], [917, 135, "F"]);
m.star([995, 183], [1043, 183], [995, 133, "F"], [948, 183, "F"], [995, 235, "F"]);
m.ring([[1043, 183], [1065, 145], [1112, 145], [1135, 183], [1112, 228], [1065, 228]], [0, 2, 4]);
m.b([1135, 183], [1180, 190]);
m.b([1180, 190], [1205, 235, "N"]);
m.b([1205, 235, "N"], [1182, 273]);
m.b([1205, 235, "N"], [1250, 237, "S"]);
m.d([1250, 237, "S"], [1250, 185, "O"]);
m.d([1250, 237, "S"], [1250, 285, "O"]);
m.b([1250, 237, "S"], [1300, 237]);
m.ring([[1300, 237], [1325, 198], [1372, 210, "N"], [1368, 265, "N"], [1322, 278]], [0, 3]);
m.b([1322, 278], [1308, 322]);
m.b([1372, 210, "N"], [1418, 185]);
m.ring([[1405, 140], [1433, 108], [1478, 118], [1490, 160], [1462, 195], [1418, 185]], [0, 2, 4]);

// row F
m = pen(1170, 1020, 2.95, 3);
m.star([630, 65], [660, 118], [600, 25, "F"], [672, 38, "F"], [590, 100, "F"]);
m.ring([[660, 118], [705, 105], [745, 152], [725, 195], [675, 205], [640, 160]], [0, 2, 4]);
m.b([725, 195], [755, 242, "N"]);
m.ring([[755, 242, "N"], [738, 295, "N"], [783, 325], [825, 295], [805, 243]], [1, 3]);
m.b([783, 325], [783, 380]);
m.b([805, 243], [835, 200]);
m.ring([[835, 200], [890, 205], [925, 165], [905, 115], [855, 105], [818, 150]], [0, 2, 4]);
m.so2([905, 115], [932, 70, "S"], [890, 40, "O"], [975, 102, "O"], [970, 35, "NH2"]);
m.b([1390, 28, "SH"], [1330, 25]);
m.b([1330, 25], [1300, 70]);
m.ring([[1300, 70], [1325, 122], [1295, 165], [1240, 170], [1217, 118], [1245, 72]], [0, 2, 4]);
m.b([1240, 170], [1215, 215]);
m.ring([[1215, 215], [1153, 220], [1140, 275], [1190, 303, "N"], [1232, 268, "N"]], [0, 2]);
m.star([1090, 295], [1140, 275], [1078, 248, "F"], [1040, 315, "F"], [1112, 345, "F"]);
m.b([1232, 268, "N"], [1293, 282]);
m.ring([[1293, 282], [1330, 245], [1380, 255], [1392, 312], [1358, 345], [1310, 335]], [0, 2, 4]);
m.so2([1392, 312], [1445, 320, "S"], [1460, 268, "O"], [1433, 375, "O"], [1510, 338, "NH2"]);

const svgEl = document.createElementNS("http://www.w3.org/2000/svg", "svg");
svgEl.setAttribute("width", "1699");
svgEl.setAttribute("height", "1241");
svgEl.innerHTML = svgOut;
page.appendChild(svgEl);
</script>
</body>
</html>
